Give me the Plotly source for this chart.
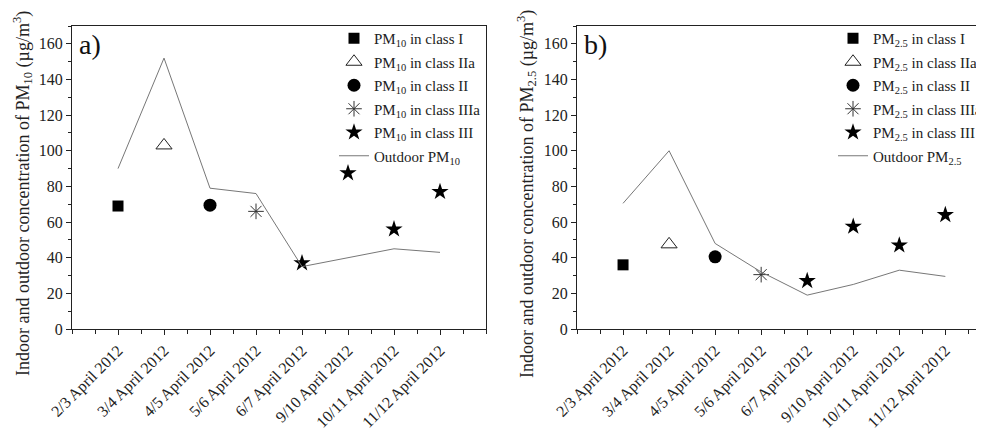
import plotly.graph_objects as go

dates = ["2/3 April 2012", "3/4 April 2012", "4/5 April 2012", "5/6 April 2012",
         "6/7 April 2012", "9/10 April 2012", "10/11 April 2012", "11/12 April 2012"]

# Panel a: PM10
outdoor_pm10 = [90, 152, 79, 76, 35, 40, 45, 43]
pm10_class_I = [69]
pm10_class_IIa = [103]
pm10_class_II = [69.5]
pm10_class_IIIa = [66]
pm10_class_III = [37, 87.5, 56, 77]

# Panel b: PM2.5
outdoor_pm25 = [70.5, 100, 48, 32, 19, 25, 33, 29.5]
pm25_class_I = [36]
pm25_class_IIa = [47.5]
pm25_class_II = [40.5]
pm25_class_IIIa = [30.5]
pm25_class_III = [27, 57.5, 47, 64]

class_dates = {
    "I": [dates[0]],
    "IIa": [dates[1]],
    "II": [dates[2]],
    "IIIa": [dates[3]],
    "III": dates[4:8],
}

idx = {d: i for i, d in enumerate(dates)}

FONT = "Liberation Serif, Times New Roman, serif"
OFF = 8  # page body margin
W, H = 984 - OFF, 428 - OFF

def px(v):
    return (v - OFF) / W

def py(v):
    return 1 - (v - OFF) / H

fig = go.Figure()

styles = {
    "I": dict(symbol="square", size=11, color="black", line=dict(width=0)),
    "IIa": dict(symbol="triangle-up-open", size=14, color="#222", line=dict(width=1, color="#222")),
    "II": dict(symbol="circle", size=13, color="black", line=dict(width=0)),
    "IIIa": dict(symbol="asterisk-open", size=13, color="#333", line=dict(width=1, color="#333")),
    "III": dict(symbol="star", size=13, color="black", line=dict(width=0)),
}

def add_panel(xa, ya, legend, pmname, outdoor, classes, tag):
    for cls, vals in classes:
        xs = [idx[d] for d in class_dates[cls]]
        fig.add_trace(go.Scatter(
            x=xs, y=vals, mode="markers", xaxis=xa, yaxis=ya, legend=legend,
            legendgroup=f"{tag}{cls}",
            name=f"{pmname} in class {cls}", marker=styles[cls]))
    fig.add_trace(go.Scatter(
        x=[idx[d] for d in dates], y=outdoor, mode="lines", xaxis=xa, yaxis=ya,
        legend=legend, legendgroup=f"{tag}out",
        name=f"Outdoor {pmname}", line=dict(color="#777", width=1)))

add_panel("x", "y", "legend", "PM<sub>10</sub>", outdoor_pm10,
          [("I", pm10_class_I), ("IIa", pm10_class_IIa), ("II", pm10_class_II),
           ("IIIa", pm10_class_IIIa), ("III", pm10_class_III)], "a")
add_panel("x2", "y2", "legend2", "PM<sub>2.5</sub>", outdoor_pm25,
          [("I", pm25_class_I), ("IIa", pm25_class_IIa), ("II", pm25_class_II),
           ("IIIa", pm25_class_IIIa), ("III", pm25_class_III)], "b")

xcommon = dict(
    tickmode="array", tickvals=list(range(len(dates))), ticktext=dates,
    tickangle=-45, ticks="outside", ticklen=5, tickcolor="#222", tickwidth=1,
    showline=True, linecolor="#222", linewidth=1, mirror=True,
    showgrid=False, zeroline=False, automargin=False,
    tickfont=dict(family=FONT, size=16, color="#222"),
    minor=dict(tickmode="linear", tick0=-1, dtick=0.5, ticks="outside", ticklen=4,
               tickcolor="#222", showgrid=False),
)
ycommon = dict(
    range=[0, 170], tickmode="linear", tick0=0, dtick=20,
    ticks="outside", ticklen=5, tickcolor="#222", tickwidth=1,
    showline=True, linecolor="#222", linewidth=1, mirror=True,
    showgrid=False, zeroline=False, automargin=False,
    tickfont=dict(family=FONT, size=16, color="#222"),
    minor=dict(tickmode="linear", tick0=0, dtick=10, ticks="outside", ticklen=3,
               tickcolor="#222", showgrid=False),
)

legcommon = dict(
    font=dict(family=FONT, size=15, color="#222"),
    bgcolor="rgba(0,0,0,0)", borderwidth=0,
    xanchor="left", yanchor="top", tracegroupgap=1,
)

fig.update_layout(
    width=W, height=H,
    margin=dict(l=0, r=0, t=0, b=0, autoexpand=False),
    paper_bgcolor="white", plot_bgcolor="white",
    xaxis=dict(domain=[px(72), px(486)], range=[-1, 8], anchor="y", **xcommon),
    yaxis=dict(domain=[py(329), py(26)], anchor="x", **ycommon),
    xaxis2=dict(domain=[px(577), 1.0], range=[-1, 7.84], anchor="y2", **xcommon),
    yaxis2=dict(domain=[py(329), py(26)], anchor="x2", **ycommon),
    legend=dict(x=px(334), y=py(22), **legcommon),
    legend2=dict(x=px(833), y=py(22), **legcommon),
    showlegend=True,
    annotations=[
        dict(text="Indoor and outdoor concentration of PM<sub>10</sub> (µg/m<sup>3</sup>)",
             xref="paper", yref="paper", x=px(22), y=py(194), textangle=-90,
             showarrow=False, font=dict(family=FONT, size=18, color="#222"),
             xanchor="center", yanchor="middle"),
        dict(text="Indoor and outdoor concentration of PM<sub>2.5</sub> (µg/m<sup>3</sup>)",
             xref="paper", yref="paper", x=px(526), y=py(194), textangle=-90,
             showarrow=False, font=dict(family=FONT, size=18, color="#222"),
             xanchor="center", yanchor="middle"),
        dict(text="a)", xref="paper", yref="paper", x=px(77), y=py(44),
             showarrow=False, font=dict(family=FONT, size=28, color="#111"),
             xanchor="left", yanchor="middle"),
        dict(text="b)", xref="paper", yref="paper", x=px(582), y=py(44),
             showarrow=False, font=dict(family=FONT, size=28, color="#111"),
             xanchor="left", yanchor="middle"),
    ],
)

fig.write_html("out.html")
